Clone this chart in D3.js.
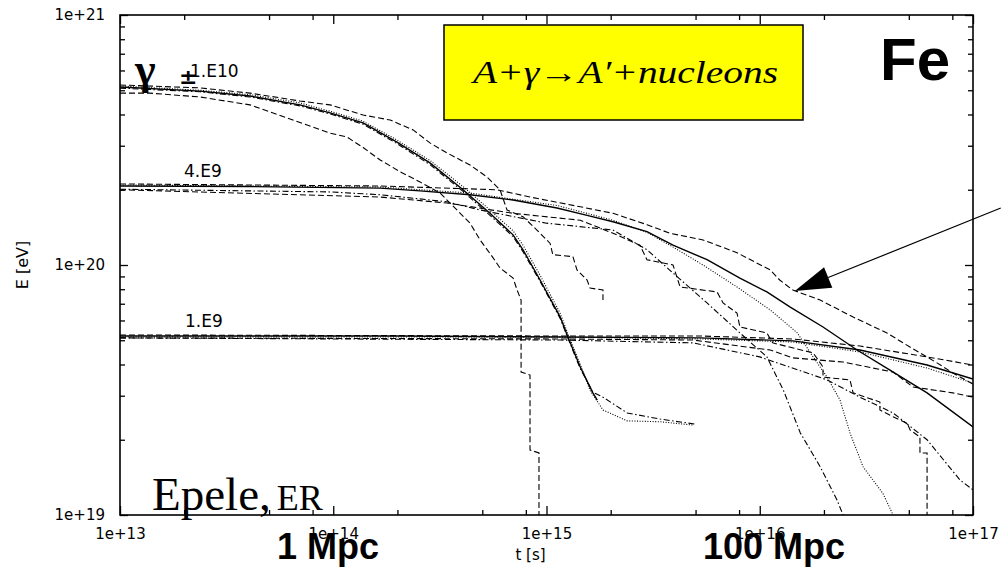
<!DOCTYPE html>
<html>
<head>
<meta charset="utf-8">
<script src="https://cdn.jsdelivr.net/npm/d3@7"></script>
<style>
  body { margin: 0; background: #fff; }
  svg { display: block; }
</style>
</head>
<body>
<div id="chart"></div>
<script>
// Chart size and margins
var margin = {top: 15, right: 28, bottom: 52, left: 120},
    width = 1001,
    height = 567;

// DATA ----------------------------------------------
const xMajor = [1e13, 1e14, 1e15, 1e16, 1e17];
const xMajorLabels = ["1e+13", "1e+14", "1e+15", "1e+16", "1e+17"];
const yMajor = [1e19, 1e20, 1e21];
const yMajorLabels = ["1e+19", "1e+20", "1e+21"];
const xMinorMantissas = [2, 5, 8];
const yMinorMantissas = [2, 3, 4, 5, 6, 7, 8, 9];
const groupLabels = ["1.E10", "4.E9", "1.E9"];

// [t (s), E (eV)]  -- group 1 (1.E10)
const g1Solid = [[1e13,5.15e20],[2.37e13,4.96e20],[4.07e13,4.74e20],[6.98e13,4.37e20],[9.66e13,4.06e20],[1.38e14,3.70e20],[1.99e14,3.10e20],[2.84e14,2.56e20],[4.06e14,2.0e20],[5.43e14,1.61e20],[6.97e14,1.32e20],[7.76e14,1.15e20],[9.33e14,8.71e19],[1.16e15,6.19e19],[1.26e15,5.15e19],[1.44e15,3.91e19],[1.65e15,3.08e19],[1.73e15,2.88e19]];
const g1Dotted = [[1e13,5.2e20],[2.37e13,5.0e20],[4.07e13,4.8e20],[6.98e13,4.45e20],[9.66e13,4.12e20],[1.38e14,3.76e20],[1.99e14,3.16e20],[2.84e14,2.62e20],[4.06e14,2.06e20],[5.43e14,1.66e20],[6.97e14,1.37e20],[7.76e14,1.2e20],[9.33e14,9.1e19],[1.16e15,6.4e19],[1.26e15,5.3e19],[1.44e15,4.0e19],[1.6e15,3.15e19],[1.73e15,2.85e19],[1.84e15,2.63e19],[2.39e15,2.38e19],[3.41e15,2.36e19],[4.87e15,2.29e19]];
const g1DashDot = [[1e13,5.1e20],[2.37e13,4.93e20],[4.07e13,4.7e20],[6.98e13,4.33e20],[9.66e13,4.02e20],[1.38e14,3.66e20],[1.99e14,3.06e20],[2.84e14,2.52e20],[4.06e14,1.97e20],[5.43e14,1.58e20],[6.97e14,1.3e20],[7.76e14,1.13e20],[9.33e14,8.6e19],[1.16e15,6.1e19],[1.26e15,5.1e19],[1.44e15,3.85e19],[1.65e15,3.1e19],[1.84e15,2.96e19],[2.39e15,2.56e19],[3.41e15,2.42e19],[4.97e15,2.31e19]];
const g1Upper = [[1e13,5.25e20],[2.37e13,5.11e20],[4.07e13,4.87e20],[6.98e13,4.53e20],[9.66e13,4.37e20],[1.38e14,3.98e20],[1.85e14,3.80e20],[2.37e14,3.47e20],[2.84e14,3.08e20],[3.41e14,2.81e20],[4.38e14,2.51e20],[5.26e14,2.25e20],[6.05e14,2.0e20],[6.53e14,1.66e20],[7.76e14,1.56e20],[9.02e14,1.38e20],[1.04e15,1.22e20],[1.07e15,1.10e20],[1.33e15,1.08e20],[1.39e15,9.55e19],[1.55e15,8.71e19],[1.60e15,8.09e19],[1.84e15,7.94e19],[1.84e15,7.24e19]];
const g1Lower = [[1e13,4.87e20],[1.38e13,4.87e20],[2.37e13,4.70e20],[4.07e13,4.37e20],[8.04e13,3.56e20],[9.66e13,3.37e20],[1.16e14,3.25e20],[1.38e14,2.95e20],[1.66e14,2.63e20],[2.06e14,2.36e20],[2.55e14,2.15e20],[3.17e14,1.94e20],[3.80e14,1.66e20],[4.38e14,1.47e20],[4.88e14,1.26e20],[5.61e14,1.07e20],[6.05e14,9.73e19],[6.97e14,8.87e19],[7.28e14,7.94e19],[7.60e14,7.24e19],[7.60e14,3.73e19],[8.37e14,3.63e19],[8.37e14,1.82e19],[9.22e14,1.77e19],[9.22e14,9e18]];

// group 2 (4.E9)
const g2Solid = [[1e13,2.07e20],[4.07e13,2.06e20],[1.66e14,2.03e20],[2.55e14,1.98e20],[4.38e14,1.91e20],[6.97e14,1.82e20],[1.12e15,1.69e20],[1.55e15,1.58e20],[2.05e15,1.49e20],[2.96e15,1.36e20],[3.92e15,1.20e20],[5.66e15,1.05e20],[8.07e15,8.87e19],[1.08e16,7.80e19],[1.39e16,6.79e19],[1.98e16,5.65e19],[2.86e16,4.57e19],[4.08e16,3.80e19],[6.09e16,3.08e19],[1e17,2.25e19]];
const g2Dotted = [[1e13,2.09e20],[1.66e14,2.05e20],[4.38e14,1.94e20],[1.12e15,1.73e20],[2.05e15,1.51e20],[2.96e15,1.35e20],[3.79e15,1.20e20],[5.42e15,1.0e20],[7.82e15,8.17e19],[1.12e16,6.61e19],[1.50e16,5.35e19],[1.78e16,4.29e19],[2.07e16,3.56e19],[2.38e16,2.88e19],[2.65e16,2.13e19],[3.05e16,1.56e19],[3.78e16,1.22e19],[4.22e16,1e19],[4.4e16,9.5e18]];
const g2Upper = [[1e13,2.11e20],[1.66e14,2.07e20],[5.86e14,2.0e20],[8.37e14,1.87e20],[1.44e15,1.71e20],[2.05e15,1.61e20],[2.96e15,1.45e20],[3.79e15,1.34e20],[5.42e15,1.26e20],[7.82e15,1.12e20],[1.12e16,9.55e19],[1.24e16,8.71e19],[1.43e16,7.94e19],[1.92e16,7.24e19],[2.74e16,6.19e19],[3.95e16,5.35e19],[4.70e16,4.88e19],[5.64e16,4.45e19],[6.78e16,4.06e19],[8.05e16,3.70e19],[1e17,3.34e19]];
const g2DashDot = [[1e13,2.01e20],[9.66e13,1.96e20],[1.66e14,1.91e20],[3.41e14,1.79e20],[4.88e14,1.66e20],[1.0e15,1.47e20],[2.05e15,1.38e20],[2.96e15,1.15e20],[3.92e15,9.29e19],[5.66e15,7.05e19],[8.07e15,5.35e19],[1.08e16,4.29e19],[1.29e16,3.16e19],[1.55e16,2.13e19],[1.92e16,1.56e19],[2.30e16,1.15e19],[2.46e16,1e19],[2.55e16,9.5e18]];
const g2Lower = [[1e13,2.0e20],[1.66e14,1.87e20],[3.41e14,1.77e20],[6.97e14,1.61e20],[1.44e15,1.51e20],[2.05e15,1.34e20],[2.74e15,1.20e20],[2.96e15,1.05e20],[3.92e15,1.0e20],[4.23e15,8.17e19],[6.31e15,7.80e19],[6.73e15,7.05e19],[7.82e15,6.43e19],[8.07e15,5.65e19],[1.08e16,5.35e19],[1.15e16,4.88e19],[1.78e16,4.45e19],[1.98e16,3.91e19],[1.98e16,3.56e19],[2.65e16,3.47e19],[2.74e16,3.08e19],[3.66e16,2.83e19],[3.66e16,2.63e19],[4.22e16,2.47e19],[4.91e16,2.33e19],[5.07e16,2.19e19],[5.64e16,2.05e19],[5.64e16,1.77e19],[6.09e16,1.77e19],[6.09e16,9e18]];

// group 3 (1.E9)
const g3Solid = [[1e13,5.20e19],[2.06e14,5.20e19],[1.16e15,5.15e19],[5.25e15,5.11e19],[1.43e16,4.97e19],[2.95e16,4.57e19],[6.09e16,3.98e19],[1e17,3.50e19]];
const g3Upper = [[1e13,5.25e19],[1.16e15,5.2e19],[5.25e15,5.2e19],[1.43e16,5.06e19],[2.95e16,4.74e19],[6.09e16,4.29e19],[1e17,3.98e19]];
const g3Dotted = [[1e13,5.15e19],[1.16e15,5.15e19],[5.25e15,5.06e19],[1.43e16,4.92e19],[2.95e16,4.49e19],[6.09e16,3.87e19],[1e17,3.37e19]];
const g3Lower = [[1e13,5.11e19],[1.16e15,5.06e19],[4.87e15,5.01e19],[1.12e16,4.57e19],[1.43e16,4.25e19],[2.46e16,4.09e19],[4.22e16,3.73e19],[5.24e16,3.25e19],[8.05e16,3.08e19],[1e17,2.96e19]];
const g3DashDot = [[1e13,5.11e19],[1.16e15,5.01e19],[4.87e15,4.88e19],[1.0e16,4.29e19],[2.07e16,3.47e19],[2.95e16,2.96e19],[4.22e16,2.56e19],[6.09e16,2.0e19],[8.69e16,1.38e19],[1e17,1.26e19]];

// arrow annotation: tail (off the right edge) and tip, in data units
const arrowTail = [1.35e17, 1.69e20];
const arrowTip = [1.46e16, 7.87e19];

// STYLES --------------------------------------------
const lineStyles = {
    solid:   {dash: null,        w: 1.4},
    dotted:  {dash: "1,1.6",     w: 1.1},
    dashed:  {dash: "6,3",       w: 1.1},
    dashdot: {dash: "6,2.5,1.5,2.5", w: 1.1}
};
const curves = [
    [g1Upper, "dashed"], [g1Lower, "dashed"], [g1DashDot, "dashdot"], [g1Dotted, "dotted"], [g1Solid, "solid"],
    [g2Upper, "dashed"], [g2Lower, "dashed"], [g2DashDot, "dashdot"], [g2Dotted, "dotted"], [g2Solid, "solid"],
    [g3Upper, "dashed"], [g3Lower, "dashed"], [g3DashDot, "dashdot"], [g3Dotted, "dotted"], [g3Solid, "solid"]
];

var svg = d3.select("#chart").append("svg")
    .attr("width", width)
    .attr("height", height);

var x = d3.scaleLog().domain([1e13, 1e17]).range([margin.left, width - margin.right]);
var y = d3.scaleLog().domain([1e19, 1e21]).range([height - margin.bottom, margin.top]);
var x0 = x.range()[0], x1 = x.range()[1], y0 = y.range()[0], y1 = y.range()[1];

// minor tick values from mantissas
const minorVals = (majors, mants) => majors.slice(0, -1).flatMap(m => mants.map(k => m * k));
const xMinor = minorVals(xMajor, xMinorMantissas);
const yMinor = minorVals(yMajor, yMinorMantissas);

svg.append("clipPath").attr("id", "plotClip")
  .append("rect")
    .attr("x", x0).attr("y", y1)
    .attr("width", x1 - x0).attr("height", y0 - y1);

// Axes (ticks point inward, labels only on bottom/left)
const tickFont = "DejaVu Sans, sans-serif";
function styleAxis(g) {
    g.select(".domain").remove();
    g.selectAll(".tick line").attr("stroke", "#000").attr("stroke-width", 1.3);
    g.attr("font-family", tickFont).attr("font-size", 15);
    g.selectAll(".tick text").attr("fill", "#000");
}

svg.append("g").attr("transform", `translate(0,${y0})`)
    .call(d3.axisBottom(x).tickValues(xMajor).tickFormat(d => xMajorLabels[xMajor.indexOf(d)])
        .tickSizeInner(-9).tickSizeOuter(0).tickPadding(13))
    .call(styleAxis);
svg.append("g").attr("transform", `translate(0,${y0})`)
    .call(d3.axisBottom(x).tickValues(xMinor).tickFormat("").tickSizeInner(-5).tickSizeOuter(0))
    .call(styleAxis);
svg.append("g").attr("transform", `translate(0,${y1})`)
    .call(d3.axisTop(x).tickValues(xMajor).tickFormat("").tickSizeInner(-9).tickSizeOuter(0))
    .call(styleAxis);
svg.append("g").attr("transform", `translate(0,${y1})`)
    .call(d3.axisTop(x).tickValues(xMinor).tickFormat("").tickSizeInner(-5).tickSizeOuter(0))
    .call(styleAxis);

svg.append("g").attr("transform", `translate(${x0},0)`)
    .call(d3.axisLeft(y).tickValues(yMajor).tickFormat(d => yMajorLabels[yMajor.indexOf(d)])
        .tickSizeInner(-8).tickSizeOuter(0).tickPadding(15))
    .call(styleAxis);
svg.append("g").attr("transform", `translate(${x0},0)`)
    .call(d3.axisLeft(y).tickValues(yMinor).tickFormat("").tickSizeInner(-5).tickSizeOuter(0))
    .call(styleAxis);
svg.append("g").attr("transform", `translate(${x1},0)`)
    .call(d3.axisRight(y).tickValues(yMajor).tickFormat("").tickSizeInner(-8).tickSizeOuter(0))
    .call(styleAxis);
svg.append("g").attr("transform", `translate(${x1},0)`)
    .call(d3.axisRight(y).tickValues(yMinor).tickFormat("").tickSizeInner(-5).tickSizeOuter(0))
    .call(styleAxis);

// Frame
svg.append("rect")
    .attr("x", x0).attr("y", y1)
    .attr("width", x1 - x0).attr("height", y0 - y1)
    .attr("fill", "none").attr("stroke", "#000").attr("stroke-width", 1.6);

// Axis titles
svg.append("text")
    .attr("x", (x0 + x1) / 2 - 16).attr("y", 560)
    .attr("text-anchor", "middle")
    .attr("font-family", tickFont).attr("font-size", 15)
    .text("t [s]");
svg.append("text")
    .attr("transform", `translate(28,${(y0 + y1) / 2}) rotate(-90)`)
    .attr("text-anchor", "middle")
    .attr("font-family", tickFont).attr("font-size", 16)
    .text("E [eV]");

// Curves
var line = d3.line().x(d => x(d[0])).y(d => y(d[1]));
svg.append("g").attr("clip-path", "url(#plotClip)")
  .selectAll("path")
  .data(curves)
  .join("path")
    .attr("d", d => line(d[0]))
    .attr("fill", "none")
    .attr("stroke", "#000")
    .attr("stroke-width", d => lineStyles[d[1]].w)
    .attr("stroke-dasharray", d => lineStyles[d[1]].dash);

// Group labels
const labelPos = [[190, 77], [184, 177], [185, 327]];
svg.selectAll("text.glabel")
  .data(groupLabels)
  .join("text")
    .attr("class", "glabel")
    .attr("x", (d, i) => labelPos[i][0])
    .attr("y", (d, i) => labelPos[i][1])
    .attr("font-family", tickFont).attr("font-size", 17)
    .text(d => d);

svg.append("text")
    .attr("x", 135).attr("y", 84)
    .attr("font-family", "Liberation Serif, serif").attr("font-weight", "bold").attr("font-size", 44)
    .text("γ");
svg.append("text")
    .attr("x", 179).attr("y", 84)
    .attr("font-family", "DejaVu Sans, sans-serif").attr("font-weight", "bold").attr("font-size", 22)
    .text("±");

// Reaction box
svg.append("rect")
    .attr("x", 444).attr("y", 25).attr("width", 359).attr("height", 95)
    .attr("fill", "#ffff00").attr("stroke", "#000").attr("stroke-width", 1.5);
svg.append("text")
    .attr("x", 473).attr("y", 83)
    .attr("textLength", 305).attr("lengthAdjust", "spacingAndGlyphs")
    .attr("font-family", "Liberation Serif, serif").attr("font-style", "italic").attr("font-size", 31)
    .text("A+γ→A′+nucleons");

svg.append("text")
    .attr("x", 880).attr("y", 80)
    .attr("font-family", "Liberation Sans, Arial, sans-serif").attr("font-weight", "bold").attr("font-size", 60)
    .text("Fe");

// Arrow
var ax0 = x(arrowTail[0]), ay0 = y(arrowTail[1]), ax1 = x(arrowTip[0]), ay1 = y(arrowTip[1]);
var len = Math.hypot(ax0 - ax1, ay0 - ay1), ux = (ax0 - ax1) / len, uy = (ay0 - ay1) / len;
var headL = 36, headW = 11;
svg.append("line")
    .attr("x1", ax0).attr("y1", ay0)
    .attr("x2", ax1 + ux * headL).attr("y2", ay1 + uy * headL)
    .attr("stroke", "#000").attr("stroke-width", 1.2);
svg.append("path")
    .attr("d", `M${ax1},${ay1} L${ax1 + ux * headL - uy * headW},${ay1 + uy * headL + ux * headW} L${ax1 + ux * headL + uy * headW},${ay1 + uy * headL - ux * headW} Z`)
    .attr("fill", "#000");

// Credits and distance marks
var credit = svg.append("text")
    .attr("x", 152).attr("y", 510)
    .attr("font-family", "Liberation Serif, serif");
credit.append("tspan").attr("font-size", 47).text("Epele,");
credit.append("tspan").attr("font-size", 36).attr("dx", 6).text("ER");

svg.append("text")
    .attr("x", 277).attr("y", 559)
    .attr("font-family", "Liberation Sans, Arial, sans-serif").attr("font-weight", "bold").attr("font-size", 36)
    .text("1 Mpc");
svg.append("text")
    .attr("x", 703).attr("y", 559)
    .attr("font-family", "Liberation Sans, Arial, sans-serif").attr("font-weight", "bold").attr("font-size", 36)
    .text("100 Mpc");
</script>
</body>
</html>
